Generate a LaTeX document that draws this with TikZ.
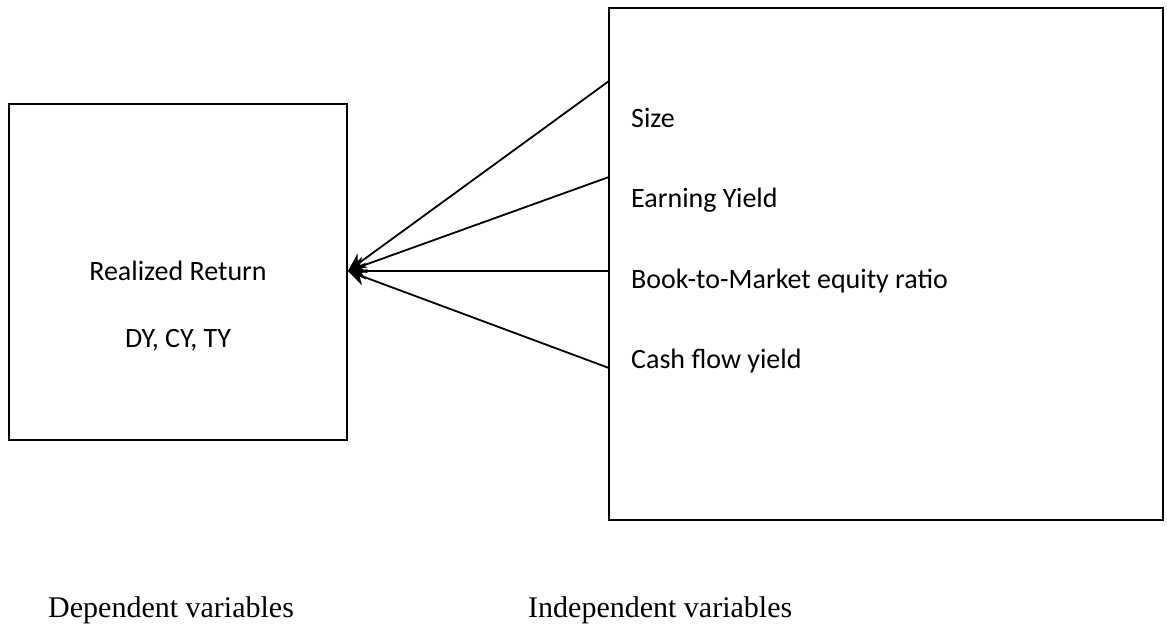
\documentclass[tikz,border=0pt]{standalone}
\usepackage{fontspec}
\setmainfont{Liberation Serif}
\newfontfamily\calibri{Carlito}
\usetikzlibrary{arrows.meta}
\begin{document}
\begin{tikzpicture}[x=1pt,y=-1pt,
  boxline/.style={draw=black,line width=1.8pt},
  link/.style={draw=black,line width=1.8pt,-{Stealth[length=18pt,width=17pt]}},
  boxtext/.style={font=\calibri\fontsize{28}{32}\selectfont,inner sep=0pt},
  captext/.style={font=\fontsize{30}{34}\selectfont,inner sep=0pt,anchor=base west}]
\useasboundingbox (0,0) rectangle (1167,627);
\fill[white] (0,0) rectangle (1167,627);
\draw[boxline] (9,104) rectangle (347,440);
\draw[boxline] (609,8) rectangle (1163,520);
\coordinate (tip) at (348,271);
\coordinate (s1) at (609,81);
\coordinate (s2) at (609,177);
\coordinate (s3) at (609,271);
\coordinate (s4) at (609,368);
\foreach \s in {s1,s2,s3,s4} \draw[link] (\s) -- (tip);
\node[boxtext,anchor=base] (rr) at (178,280) {Realized Return};
\node[boxtext,anchor=base] (dy) at (178,347) {DY, CY, TY};
\node[boxtext,anchor=base west] (size) at (631,127) {Size};
\node[boxtext,anchor=base west] (ey) at (631,207) {Earning Yield};
\node[boxtext,anchor=base west] (bm) at (631,288) {Book-to-Market equity ratio};
\node[boxtext,anchor=base west] (cf) at (631,368) {Cash flow yield};
\node[captext] (dep) at (48,617) {Dependent variables};
\node[captext] (ind) at (528,617) {Independent variables};
\end{tikzpicture}
\end{document}
